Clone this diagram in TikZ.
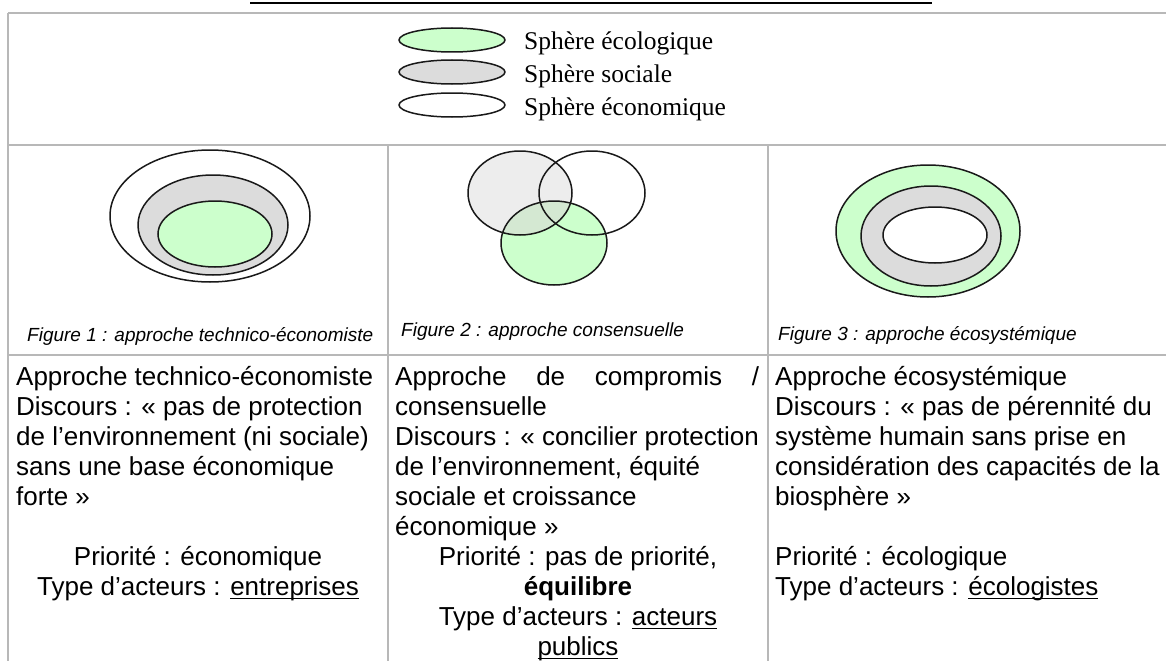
\documentclass[tikz,border=0pt]{standalone}
\usepackage{fontspec}
\setmainfont{Liberation Serif}
\setsansfont{Liberation Sans}
\usetikzlibrary{positioning}

\definecolor{vertpale}{HTML}{CCFFCC}
\definecolor{grispale}{HTML}{DCDCDC}
\definecolor{grisclair}{HTML}{EDEDED}
\definecolor{vertgris}{HTML}{D4E8D2}
\definecolor{trait}{HTML}{B8B8B8}

% souligne un mot
\newcommand{\souligne}[1]{\setbox0\hbox{#1}\rlap{\rule[-3.5pt]{\wd0}{1.3pt}}\box0}

\begin{document}
\begin{tikzpicture}[x=1pt, y=-1pt,
  sphere/.style={draw=black!90, line width=1.5pt},
  cadre/.style={draw=trait, line width=1.5pt},
  corps/.style={inner sep=0pt, font=\sffamily\fontsize{26}{30}\selectfont},
  legende/.style={inner sep=0pt, anchor=base west, font=\fontsize{25.5}{32}\selectfont},
  titrefig/.style={inner sep=0pt, anchor=base west, font=\sffamily\itshape\fontsize{19}{22}\selectfont}]
\useasboundingbox (0,0) rectangle (1166,661);

% tableau
\draw[line width=2pt] (250,3.5) -- (932,3.5);
\draw[cadre] (8,13) -- (1166,13);
\draw[cadre] (8,13) -- (8,661);
\draw[cadre] (8,145) -- (1166,145);
\draw[cadre] (8,355) -- (1166,355);
\draw[cadre] (388,145) -- (388,661);
\draw[cadre] (768,145) -- (768,661);

% legende
\draw[sphere, fill=vertpale] (452,40) ellipse [x radius=53, y radius=12];
\draw[sphere, fill=grispale] (452,72) ellipse [x radius=53, y radius=12];
\draw[sphere, fill=white] (452,105) ellipse [x radius=53, y radius=12];
\node[legende] (leg1) at (524,50) {Sphère écologique};
\node[legende] (leg2) at (524,82.5) {Sphère sociale};
\node[legende] (leg3) at (524,115) {Sphère économique};

% figure 1
\draw[sphere, fill=white] (210,216) ellipse [x radius=100, y radius=66];
\draw[sphere, fill=grispale] (213,225) ellipse [x radius=75, y radius=50];
\draw[sphere, fill=vertpale] (215,234) ellipse [x radius=57, y radius=33];
\node[titrefig] (fig1) at (27,341) {Figure 1 : approche technico-économiste};

% figure 2
\fill[grisclair] (520,193) ellipse [x radius=52, y radius=42];
\fill[vertpale] (554,243) ellipse [x radius=53, y radius=42];
\begin{scope}
  \clip (520,193) ellipse [x radius=52, y radius=42];
  \fill[vertgris] (554,243) ellipse [x radius=53, y radius=42];
\end{scope}
\draw[sphere] (520,193) ellipse [x radius=52, y radius=42];
\draw[sphere] (592,193) ellipse [x radius=53, y radius=42];
\draw[sphere] (554,243) ellipse [x radius=53, y radius=42];
\node[titrefig] (fig2) at (401,336) {Figure 2 : approche consensuelle};

% figure 3
\draw[sphere, fill=vertpale] (928,231) ellipse [x radius=92, y radius=66];
\draw[sphere, fill=grispale] (931,236) ellipse [x radius=70, y radius=50];
\draw[sphere, fill=white] (935,235) ellipse [x radius=52, y radius=28];
\node[titrefig] (fig3) at (778,340) {Figure 3 : approche écosystémique};

% textes
\node[corps, anchor=north west, align=left] (txt1) at (16,366)
  {Approche technico-économiste\\
   Discours : « pas de protection\\
   de l’environnement (ni sociale)\\
   sans une base économique\\
   forte »};
\node[corps, anchor=north, align=center] (prio1) at (198,546)
  {Priorité : économique\\
   Type d’acteurs : \souligne{entreprises}};

\node[corps, anchor=north west, align=left] (txt2) at (395,366)
  {\makebox[364pt][s]{Approche de compromis /}\\
   consensuelle\\
   Discours : « concilier protection\\
   de l’environnement, équité\\
   sociale et croissance\\
   économique »};
\node[corps, anchor=north, align=center] (prio2) at (578,546)
  {Priorité : pas de priorité,\\
   \textbf{équilibre}\\
   Type d’acteurs : \souligne{acteurs}\\
   \souligne{publics}};

\node[corps, anchor=north west, align=left] (txt3) at (775,366)
  {Approche écosystémique\\
   Discours : « pas de pérennité du\\
   système humain sans prise en\\
   considération des capacités de la\\
   biosphère »};
\node[corps, anchor=north west, align=left] (prio3) at (775,546)
  {Priorité : écologique\\
   Type d’acteurs : \souligne{écologistes}};

\end{tikzpicture}
\end{document}
